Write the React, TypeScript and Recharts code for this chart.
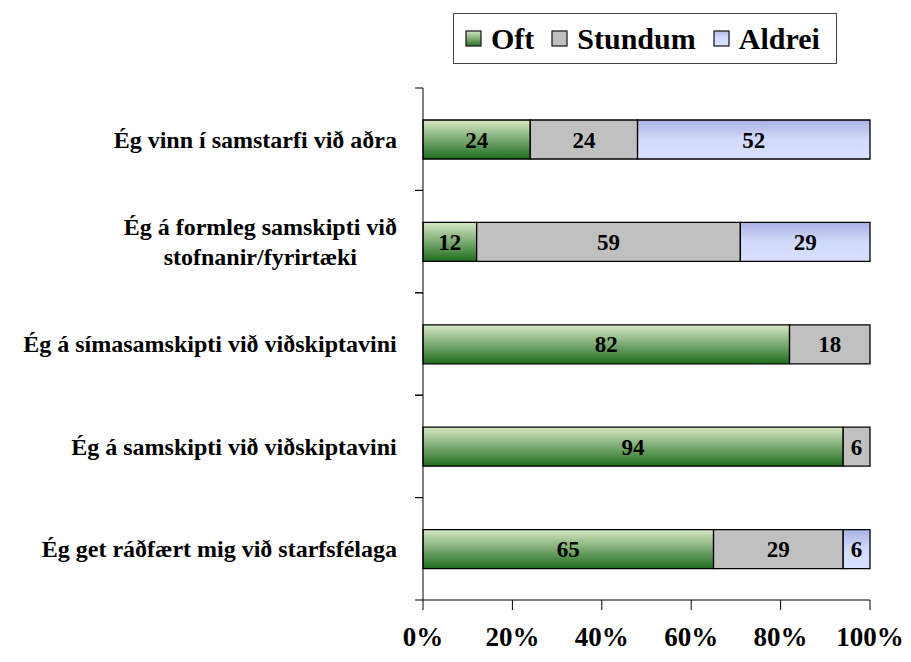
import React, { useEffect, useLayoutEffect, useRef, useState } from "react";
import { BarChart, Bar, XAxis, YAxis, LabelList } from "recharts";

const categories = [
  "Ég vinn í samstarfi við aðra",
  "Ég á formleg samskipti við stofnanir/fyrirtæki",
  "Ég á símasamskipti við viðskiptavini",
  "Ég á samskipti við viðskiptavini",
  "Ég get ráðfært mig við starfsfélaga",
];
const oft = [24, 12, 82, 94, 65];
const stundum = [24, 59, 18, 6, 29];
const aldrei = [52, 29, 0, 0, 6];
const xTicks = [0, 20, 40, 60, 80, 100];

const seriesNames = ["Oft", "Stundum", "Aldrei"];

const data = categories.map((name, i) => ({
  name,
  Oft: oft[i],
  Stundum: stundum[i],
  Aldrei: aldrei[i],
}));

const FONT = "Liberation Serif";
const LABEL_PX = 24;
const MAX_CHARS = 36;

const TICK_SIZE = 8;
const TICK_MARGIN = 18;

function wrap(text: string): string[] {
  const lines: string[] = [];
  let cur = "";
  for (const w of text.split(" ")) {
    const next = cur ? cur + " " + w : w;
    if (cur && next.length > MAX_CHARS) {
      lines.push(cur);
      cur = w;
    } else cur = next;
  }
  if (cur) lines.push(cur);
  return lines;
}

// lines centred on each other, block right-aligned against the axis
function CategoryTick(props: any) {
  const { x, y, payload } = props;
  const half = payload.offset || 51.2;
  const axisX = x + TICK_SIZE + TICK_MARGIN;
  const lines = wrap(String(payload.value));
  const lh = 30;
  const top = y - ((lines.length - 1) * lh) / 2;
  const ref = useRef<SVGGElement>(null);
  const [shift, setShift] = useState(0);
  useLayoutEffect(() => {
    if (!ref.current) return;
    const box = ref.current.getBBox();
    setShift(x - (box.x + box.width));
  });
  return (
    <g>
      <line x1={axisX - TICK_SIZE} x2={axisX} y1={y - half} y2={y - half} stroke="#000" />
      <line x1={axisX - TICK_SIZE} x2={axisX} y1={y + half} y2={y + half} stroke="#000" />
      <g ref={ref} transform={`translate(${shift},0)`}>
        {lines.map((l, i) => (
          <text
            key={i}
            x={x}
            y={top + i * lh}
            dy="0.35em"
            textAnchor="middle"
            style={{ fontFamily: FONT, fontWeight: 700, fontSize: LABEL_PX }}
            fill="#000"
          >
            {l}
          </text>
        ))}
      </g>
    </g>
  );
}

const fills: Record<string, string> = {
  Oft: "url(#gOft)",
  Stundum: "#c0c0c0",
  Aldrei: "url(#gAldrei)",
};

const legendFills: Record<string, string> = {
  Oft: "url(#lgOft)",
  Stundum: "#c0c0c0",
  Aldrei: "url(#lgAldrei)",
};

function LegendIcon({ fill }: { fill: string }) {
  return (
    <svg width={17} height={17} style={{ display: "block" }}>
      <defs>
        <linearGradient id="lgOft" x1="0" y1="0" x2="0" y2="1">
          <stop offset="0" stopColor="#d6e8c4" />
          <stop offset="1" stopColor="#2a732a" />
        </linearGradient>
        <linearGradient id="lgAldrei" x1="0" y1="0" x2="0" y2="1">
          <stop offset="0" stopColor="#b4bce8" />
          <stop offset="0.5" stopColor="#d4dcfc" />
          <stop offset="1" stopColor="#dae1ff" />
        </linearGradient>
      </defs>
      <rect x={1} y={1} width={15} height={15} fill={fill} stroke="#222" strokeWidth={1.3} />
    </svg>
  );
}

export default function App() {
  // re-render once the serif face is ready so measurements use it
  const [fontKey, setFontKey] = useState(0);
  useEffect(() => {
    const fonts = (document as any).fonts;
    if (!fonts) return;
    Promise.all([
      fonts.load(`bold 24px "${FONT}"`, "Ég ð æ"),
      fonts.load(`bold 30px "${FONT}"`, "Oft"),
    ])
      .then(() => setFontKey(1))
      .catch(() => {});
  }, []);

  return (
    <div
      key={fontKey}
      style={{ position: "absolute", left: 0, top: 0, width: 911, height: 662, background: "#fff", fontFamily: FONT }}
    >
      <BarChart
        width={911}
        height={662}
        data={data}
        layout="vertical"
        margin={{ top: 88, right: 41, bottom: 10, left: 0 }}
        style={{ fontFamily: FONT }}
      >
        <defs>
          <linearGradient id="gOft" x1="0" y1="0" x2="0" y2="1">
            <stop offset="0" stopColor="#d6e8c4" />
            <stop offset="1" stopColor="#1f6d1f" />
          </linearGradient>
          <linearGradient id="gAldrei" x1="0" y1="0" x2="0" y2="1">
            <stop offset="0" stopColor="#aab2e3" />
            <stop offset="0.5" stopColor="#d2dafc" />
            <stop offset="1" stopColor="#d9e0ff" />
          </linearGradient>
        </defs>
        <XAxis
          type="number"
          domain={[0, 100]}
          ticks={xTicks}
          tickFormatter={(v: number) => `${v}%`}
          axisLine={{ stroke: "#000" }}
          tickLine={{ stroke: "#000" }}
          tickSize={10}
          tickMargin={17}
          height={52}
          interval={0}
          tick={{ style: { fontFamily: FONT, fontWeight: 700, fontSize: 27 }, fill: "#000" }}
        />
        <YAxis
          type="category"
          dataKey="name"
          width={423}
          axisLine={{ stroke: "#000" }}
          tickLine={false}
          tickSize={TICK_SIZE}
          tickMargin={TICK_MARGIN}
          interval={0}
          tick={<CategoryTick />}
        />
        {seriesNames.map((s) => (
          <Bar
            key={s}
            dataKey={s}
            stackId="a"
            fill={fills[s]}
            stroke="#000"
            strokeWidth={1.3}
            barSize={39}
            isAnimationActive={false}
          >
            <LabelList
              dataKey={s}
              position="center"
              formatter={(v: any) => (v ? String(v) : "")}
              fill="#000"
              style={{ fontFamily: FONT, fontWeight: 700, fontSize: 23 }}
            />
          </Bar>
        ))}
      </BarChart>
      <div
        style={{
          position: "absolute",
          left: 453,
          top: 13,
          width: 384,
          height: 51,
          border: "1px solid #444",
          display: "flex",
          alignItems: "center",
          paddingLeft: 11,
          boxSizing: "border-box",
          fontFamily: FONT,
          fontWeight: 700,
          fontSize: 30,
        }}
      >
        {seriesNames.map((s, i) => (
          <div key={s} style={{ display: "flex", alignItems: "center", marginRight: i < 2 ? 17 : 0 }}>
            <LegendIcon fill={legendFills[s]} />
            <span style={{ marginLeft: 9 }}>{s}</span>
          </div>
        ))}
      </div>
    </div>
  );
}
